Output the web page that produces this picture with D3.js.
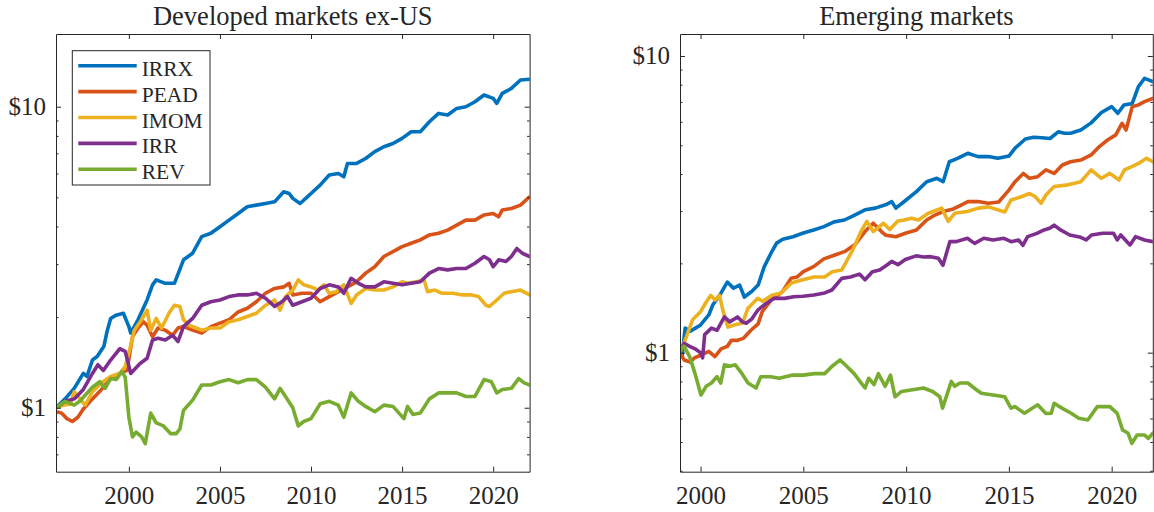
<!DOCTYPE html>
<html lang="en">
<head>
    <meta charset="UTF-8">
    <title>Developed vs emerging markets</title>
    <script src="https://d3js.org/d3.v7.min.js"></script>
    <style>
        body { margin: 0; background: #fff; }
        svg { display: block; background: #fff; }
        text { font-family: 'Liberation Serif', 'Times New Roman', serif; fill: #262626; }
        .axis path, .axis line { stroke: #262626; stroke-width: 1px; }
        .axis text { font-size: 25px; font-family: 'Liberation Serif', 'Times New Roman', serif; fill: #262626; }
        .series { fill: none; stroke-width: 3.6px; stroke-linejoin: round; stroke-linecap: round; }
    </style>
</head>
<body>
<svg width="1154" height="512"></svg>
<script>
    // series order + colours (MATLAB default palette)
    const seriesNames = ["IRRX", "PEAD", "IMOM", "IRR", "REV"];
    const seriesColors = ["#0072BD", "#D95319", "#EDB120", "#7E2F8E", "#77AC30"];
    const yearTicks = [2000, 2005, 2010, 2015, 2020];

    // Developed markets ex-US: [year, growth of $1]
    const devIRRX = [[1996.0,1.00],[1996.5,1.07],[1997.0,1.16],[1997.5,1.30],[1997.7,1.27],[1998.0,1.44],[1998.26,1.48],[1998.63,1.60],[1998.8,1.79],[1999.0,1.98],[1999.3,2.03],[1999.7,2.06],[2000.0,1.86],[2000.1,1.77],[2000.5,1.96],[2001.0,2.28],[2001.3,2.56],[2001.5,2.66],[2002.0,2.59],[2002.5,2.59],[2003.0,3.10],[2003.5,3.26],[2004.0,3.70],[2004.5,3.80],[2005.0,3.99],[2005.5,4.20],[2006.0,4.42],[2006.5,4.65],[2007.0,4.71],[2007.5,4.77],[2008.0,4.83],[2008.5,5.22],[2008.8,5.15],[2009.0,4.96],[2009.4,4.77],[2009.8,5.02],[2010.0,5.15],[2010.5,5.49],[2011.0,5.93],[2011.5,6.00],[2011.8,5.85],[2012.0,6.48],[2012.5,6.48],[2013.0,6.73],[2013.5,7.09],[2014.0,7.36],[2014.5,7.55],[2015.0,7.85],[2015.5,8.26],[2016.0,8.26],[2016.5,8.91],[2017.0,9.50],[2017.5,9.38],[2018.0,9.87],[2018.5,10.0],[2019.0,10.39],[2019.5,10.94],[2020.0,10.66],[2020.2,10.26],[2020.5,11.07],[2021.0,11.5],[2021.5,12.27],[2022.0,12.33]];
    const devPEAD = [[1996.0,0.97],[1996.3,0.96],[1996.6,0.92],[1996.9,0.90],[1997.2,0.93],[1997.5,0.99],[1998.0,1.07],[1998.5,1.15],[1999.0,1.25],[1999.5,1.30],[1999.9,1.33],[2000.2,1.72],[2000.5,1.84],[2000.8,1.93],[2001.0,1.88],[2001.3,1.72],[2001.6,1.84],[2002.0,1.81],[2002.4,1.74],[2002.7,1.84],[2003.0,1.86],[2003.5,1.81],[2004.0,1.77],[2004.5,1.86],[2005.0,1.91],[2005.5,1.96],[2006.0,2.08],[2006.5,2.14],[2007.0,2.25],[2007.5,2.40],[2008.0,2.49],[2008.5,2.52],[2008.8,2.59],[2009.0,2.37],[2009.5,2.40],[2010.0,2.40],[2010.5,2.25],[2011.0,2.34],[2011.5,2.43],[2012.0,2.52],[2012.5,2.62],[2013.0,2.80],[2013.5,2.94],[2014.0,3.18],[2014.5,3.30],[2015.0,3.43],[2015.5,3.52],[2016.0,3.61],[2016.5,3.75],[2017.0,3.80],[2017.5,3.89],[2018.0,4.04],[2018.5,4.20],[2019.0,4.20],[2019.5,4.37],[2020.0,4.42],[2020.3,4.31],[2020.5,4.54],[2021.0,4.59],[2021.5,4.71],[2022.0,5.02]];
    const devIMOM = [[1996.0,1.00],[1996.4,1.02],[1996.8,1.03],[1997.0,1.13],[1997.6,1.02],[1998.0,1.13],[1998.5,1.21],[1999.0,1.27],[1999.5,1.30],[1999.8,1.37],[2000.0,1.52],[2000.3,1.81],[2000.7,1.96],[2001.0,2.11],[2001.2,1.81],[2001.5,1.98],[2001.8,1.84],[2002.2,2.06],[2002.5,2.19],[2002.8,2.17],[2003.0,1.96],[2003.3,1.88],[2003.7,1.84],[2004.0,1.81],[2004.5,1.84],[2005.0,1.84],[2005.5,1.93],[2006.0,1.96],[2006.5,2.01],[2007.0,2.06],[2007.5,2.19],[2008.0,2.28],[2008.3,2.11],[2008.6,2.34],[2009.0,2.46],[2009.3,2.66],[2009.6,2.56],[2010.0,2.52],[2010.4,2.46],[2010.7,2.56],[2011.0,2.40],[2011.4,2.43],[2011.8,2.56],[2012.2,2.22],[2012.5,2.37],[2013.0,2.49],[2013.5,2.46],[2014.0,2.46],[2014.5,2.52],[2015.0,2.62],[2015.3,2.59],[2015.8,2.62],[2016.2,2.66],[2016.4,2.43],[2016.8,2.46],[2017.2,2.40],[2017.8,2.40],[2018.3,2.37],[2018.8,2.37],[2019.2,2.34],[2019.6,2.19],[2019.8,2.17],[2020.2,2.28],[2020.6,2.40],[2021.0,2.43],[2021.5,2.46],[2022.0,2.37]];
    const devIRR = [[1996.0,1.00],[1996.5,1.05],[1997.0,1.07],[1997.5,1.15],[1998.0,1.30],[1998.3,1.39],[1998.6,1.33],[1999.0,1.44],[1999.5,1.57],[1999.8,1.54],[2000.1,1.30],[2000.6,1.40],[2001.0,1.46],[2001.3,1.68],[2001.6,1.70],[2002.0,1.68],[2002.4,1.74],[2002.7,1.66],[2003.0,1.86],[2003.5,1.98],[2004.0,2.19],[2004.5,2.25],[2005.0,2.28],[2005.5,2.34],[2006.0,2.37],[2006.5,2.37],[2007.0,2.40],[2007.5,2.31],[2008.0,2.17],[2008.4,2.25],[2008.7,2.34],[2009.0,2.19],[2009.5,2.25],[2010.0,2.31],[2010.5,2.49],[2011.0,2.56],[2011.5,2.52],[2011.8,2.40],[2012.2,2.69],[2012.6,2.59],[2013.0,2.52],[2013.5,2.52],[2014.0,2.62],[2014.5,2.59],[2015.0,2.56],[2015.5,2.59],[2016.0,2.62],[2016.5,2.80],[2017.0,2.90],[2017.5,2.87],[2018.0,2.90],[2018.5,2.90],[2019.0,3.02],[2019.5,3.18],[2019.8,3.10],[2020.0,2.94],[2020.3,3.10],[2020.7,3.06],[2021.0,3.18],[2021.3,3.38],[2021.6,3.26],[2022.0,3.18]];
    const devREV = [[1996.0,1.00],[1996.5,1.05],[1997.0,1.02],[1997.3,1.05],[1997.6,1.10],[1998.0,1.17],[1998.4,1.22],[1998.7,1.16],[1999.0,1.25],[1999.3,1.24],[1999.63,1.32],[1999.8,1.26],[2000.0,0.93],[2000.2,0.80],[2000.4,0.83],[2000.7,0.80],[2000.9,0.76],[2001.2,0.96],[2001.5,0.89],[2001.9,0.87],[2002.3,0.82],[2002.6,0.82],[2002.8,0.85],[2003.0,0.98],[2003.5,1.06],[2004.0,1.19],[2004.5,1.19],[2005.0,1.22],[2005.5,1.24],[2006.0,1.21],[2006.5,1.24],[2007.0,1.24],[2007.5,1.17],[2008.0,1.07],[2008.3,1.16],[2008.6,1.09],[2009.0,1.00],[2009.3,0.87],[2009.6,0.90],[2010.0,0.92],[2010.5,1.03],[2011.0,1.05],[2011.5,1.02],[2011.8,0.93],[2012.2,1.12],[2012.6,1.05],[2013.0,1.01],[2013.5,0.97],[2014.0,1.02],[2014.5,1.01],[2015.1,0.92],[2015.3,1.01],[2015.6,0.95],[2016.0,0.96],[2016.5,1.07],[2017.0,1.12],[2017.5,1.12],[2018.0,1.12],[2018.5,1.09],[2019.0,1.09],[2019.5,1.24],[2019.9,1.22],[2020.2,1.12],[2020.5,1.15],[2021.0,1.16],[2021.4,1.25],[2021.7,1.21],[2022.0,1.19]];

    // Emerging markets: [year, growth of $1]
    const emIRRX = [[1999.0,1.00],[1999.1,0.97],[1999.25,1.21],[1999.5,1.18],[1999.75,1.21],[2000.0,1.24],[2000.4,1.34],[2000.6,1.45],[2001.0,1.59],[2001.3,1.73],[2001.6,1.65],[2001.9,1.69],[2002.13,1.54],[2002.5,1.61],[2002.8,1.69],[2003.1,1.95],[2003.42,2.16],[2003.7,2.34],[2004.0,2.41],[2004.5,2.46],[2005.0,2.53],[2005.5,2.59],[2006.0,2.66],[2006.5,2.76],[2007.0,2.80],[2007.5,2.91],[2008.0,3.03],[2008.5,3.07],[2009.0,3.15],[2009.3,3.23],[2009.5,3.07],[2010.0,3.27],[2010.5,3.49],[2011.0,3.77],[2011.5,3.87],[2011.8,3.77],[2012.1,4.40],[2012.5,4.52],[2013.0,4.70],[2013.5,4.58],[2014.0,4.58],[2014.46,4.52],[2015.0,4.60],[2015.3,4.89],[2015.8,5.25],[2016.2,5.32],[2016.6,5.30],[2017.0,5.27],[2017.4,5.55],[2017.7,5.49],[2018.0,5.49],[2018.5,5.63],[2019.0,5.95],[2019.5,6.45],[2020.0,6.75],[2020.3,6.41],[2020.6,6.84],[2021.0,6.92],[2021.3,7.88],[2021.6,8.41],[2022.0,8.19]];
    const emPEAD = [[1999.0,1.00],[1999.2,0.945],[1999.5,0.93],[1999.7,0.96],[2000.0,0.98],[2000.4,1.01],[2000.7,0.97],[2001.0,1.03],[2001.3,1.05],[2001.5,1.10],[2001.8,1.10],[2002.1,1.12],[2002.45,1.19],[2002.8,1.25],[2003.0,1.375],[2003.42,1.50],[2003.7,1.55],[2004.0,1.61],[2004.4,1.78],[2004.7,1.80],[2005.0,1.875],[2005.5,1.95],[2006.0,2.07],[2006.5,2.13],[2007.0,2.19],[2007.5,2.31],[2008.0,2.56],[2008.4,2.73],[2008.8,2.56],[2009.0,2.49],[2009.5,2.46],[2010.0,2.53],[2010.5,2.59],[2011.0,2.80],[2011.4,2.91],[2011.8,2.99],[2012.3,3.05],[2012.7,3.15],[2013.0,3.23],[2013.5,3.23],[2014.0,3.19],[2014.5,3.22],[2015.0,3.53],[2015.3,3.77],[2015.7,4.02],[2016.0,3.87],[2016.4,3.92],[2016.8,4.13],[2017.2,4.02],[2017.6,4.29],[2018.0,4.40],[2018.5,4.46],[2019.0,4.64],[2019.4,4.95],[2019.8,5.21],[2020.2,5.42],[2020.5,5.93],[2020.7,5.63],[2021.0,6.75],[2021.3,6.84],[2021.6,7.02],[2022.0,7.20]];
    const emIMOM = [[1999.0,1.00],[1999.31,1.13],[1999.61,1.29],[2000.0,1.375],[2000.3,1.49],[2000.5,1.56],[2000.71,1.505],[2000.92,1.56],[2001.1,1.375],[2001.33,1.22],[2001.64,1.24],[2002.05,1.26],[2002.3,1.41],[2002.78,1.525],[2003.02,1.49],[2003.47,1.56],[2003.9,1.585],[2004.44,1.72],[2004.98,1.76],[2005.51,1.80],[2006.04,1.80],[2006.4,1.875],[2006.87,1.90],[2007.36,2.19],[2007.84,2.59],[2008.09,2.77],[2008.4,2.56],[2008.9,2.73],[2009.2,2.60],[2009.6,2.78],[2009.9,2.80],[2010.27,2.84],[2010.6,2.80],[2011.08,2.95],[2011.73,3.07],[2012.05,2.77],[2012.36,2.95],[2012.98,2.99],[2013.51,3.07],[2014.0,3.10],[2014.8,2.98],[2015.1,3.27],[2015.64,3.36],[2016.0,3.44],[2016.27,3.36],[2016.57,3.19],[2016.8,3.40],[2017.2,3.63],[2017.78,3.67],[2018.5,3.77],[2019.0,4.13],[2019.5,3.87],[2019.91,4.02],[2020.36,3.82],[2020.62,4.13],[2020.98,4.24],[2021.33,4.35],[2021.69,4.52],[2022.0,4.40]];
    const emIRR = [[1999.0,1.00],[1999.2,1.075],[1999.47,1.05],[1999.73,1.03],[2000.0,1.00],[2000.1,0.96],[2000.2,1.15],[2000.53,1.21],[2000.8,1.19],[2001.16,1.32],[2001.42,1.27],[2001.8,1.32],[2002.04,1.27],[2002.22,1.256],[2002.5,1.30],[2002.78,1.39],[2003.1,1.45],[2003.58,1.525],[2004.09,1.524],[2004.53,1.544],[2004.98,1.55],[2005.51,1.565],[2006.04,1.59],[2006.39,1.626],[2006.87,1.78],[2007.29,1.80],[2007.73,1.84],[2008.0,1.76],[2008.36,1.875],[2008.71,1.90],[2009.0,1.96],[2009.3,2.03],[2009.6,1.98],[2009.96,2.06],[2010.49,2.12],[2010.84,2.10],[2011.2,2.107],[2011.57,2.08],[2011.79,1.97],[2012.13,2.37],[2012.44,2.367],[2012.98,2.43],[2013.33,2.336],[2013.78,2.43],[2014.22,2.398],[2014.76,2.43],[2015.11,2.367],[2015.47,2.398],[2015.68,2.30],[2015.91,2.46],[2016.36,2.525],[2016.71,2.592],[2016.98,2.625],[2017.2,2.69],[2017.51,2.592],[2017.96,2.493],[2018.49,2.448],[2018.76,2.40],[2019.02,2.493],[2019.56,2.525],[2020.09,2.525],[2020.27,2.398],[2020.44,2.493],[2020.89,2.307],[2021.16,2.46],[2021.6,2.398],[2022.0,2.367]];
    const emREV = [[1999.0,1.00],[1999.1,1.04],[1999.2,1.05],[1999.47,0.97],[1999.73,0.85],[2000.02,0.72],[2000.27,0.77],[2000.53,0.79],[2000.8,0.83],[2000.98,0.79],[2001.16,0.91],[2001.42,0.90],[2001.69,0.91],[2001.96,0.86],[2002.31,0.79],[2002.7,0.76],[2002.93,0.83],[2003.42,0.83],[2003.82,0.82],[2004.44,0.84],[2004.98,0.84],[2005.53,0.85],[2006.04,0.85],[2006.4,0.90],[2006.79,0.945],[2007.11,0.90],[2007.47,0.85],[2008.0,0.76],[2008.18,0.82],[2008.44,0.78],[2008.65,0.85],[2008.98,0.77],[2009.24,0.84],[2009.46,0.71],[2009.78,0.74],[2010.31,0.75],[2010.84,0.76],[2011.29,0.74],[2011.64,0.71],[2011.77,0.65],[2012.2,0.80],[2012.36,0.77],[2012.62,0.79],[2013.0,0.79],[2013.42,0.75],[2013.66,0.73],[2014.22,0.72],[2014.8,0.71],[2015.1,0.65],[2015.29,0.658],[2015.76,0.625],[2016.0,0.641],[2016.4,0.667],[2016.8,0.624],[2017.06,0.625],[2017.2,0.675],[2017.6,0.649],[2018.03,0.625],[2018.4,0.601],[2018.84,0.593],[2019.3,0.658],[2019.56,0.658],[2019.91,0.658],[2020.27,0.624],[2020.53,0.549],[2020.8,0.535],[2020.98,0.495],[2021.24,0.528],[2021.6,0.528],[2021.78,0.514],[2022.0,0.535]];

    const panels = [
        { title: "Developed markets ex-US", left: 56, right: 529.6, xDomain: [1996, 2022], yDomain: [0.613, 17.44],
          series: [devIRRX, devPEAD, devIMOM, devIRR, devREV], legend: true },
        { title: "Emerging markets", left: 680, right: 1152.8, xDomain: [1999, 2022], yDomain: [0.397, 11.86],
          series: [emIRRX, emPEAD, emIMOM, emIRR, emREV], legend: false }
    ];
    const plotTop = 34, plotBottom = 471.7;

    const svg = d3.select("svg");

    panels.forEach((p, pi) => {
        const x = d3.scaleLinear().domain(p.xDomain).range([p.left, p.right]);
        const y = d3.scaleLog().domain(p.yDomain).range([plotBottom, plotTop]);
        const g = svg.append("g");

        // minor log ticks (2..9 per decade)
        const minor = y.ticks().filter(v => {
            const m = v / Math.pow(10, Math.floor(Math.log10(v) + 1e-9));
            return Math.abs(m - 1) > 1e-6;
        });
        const major = [1, 10];

        g.append("defs").append("clipPath").attr("id", "clip" + pi)
            .append("rect").attr("x", p.left).attr("y", plotTop)
            .attr("width", p.right - p.left).attr("height", plotBottom - plotTop);

        // lines
        const line = d3.line().x(d => x(d[0])).y(d => y(d[1]));
        g.append("g").attr("clip-path", `url(#clip${pi})`)
            .selectAll("path")
            .data(p.series)
            .enter()
            .append("path")
            .attr("class", "series")
            .attr("stroke", (d, i) => seriesColors[i])
            .attr("d", line);

        // axes, ticks inside, mirrored on top/right
        g.append("g").attr("class", "axis")
            .attr("transform", `translate(0,${plotBottom})`)
            .call(d3.axisBottom(x).tickValues(yearTicks).tickFormat(d3.format("d"))
                .tickSizeInner(-5).tickSizeOuter(0).tickPadding(15));
        g.append("g").attr("class", "axis")
            .attr("transform", `translate(0,${plotTop})`)
            .call(d3.axisTop(x).tickValues(yearTicks).tickFormat("")
                .tickSizeInner(-5).tickSizeOuter(0));
        g.append("g").attr("class", "axis")
            .attr("transform", `translate(${p.left},0)`)
            .call(d3.axisLeft(y).tickValues(major).tickFormat(d => "$" + d)
                .tickSizeInner(-5).tickSizeOuter(0).tickPadding(10));
        g.append("g").attr("class", "axis")
            .attr("transform", `translate(${p.right},0)`)
            .call(d3.axisRight(y).tickValues(major).tickFormat("")
                .tickSizeInner(-5).tickSizeOuter(0));
        g.append("g").attr("class", "axis")
            .attr("transform", `translate(${p.left},0)`)
            .call(d3.axisLeft(y).tickValues(minor).tickFormat("").tickSizeInner(-2.5).tickSizeOuter(0))
            .select(".domain").remove();
        g.append("g").attr("class", "axis")
            .attr("transform", `translate(${p.right},0)`)
            .call(d3.axisRight(y).tickValues(minor).tickFormat("").tickSizeInner(-2.5).tickSizeOuter(0))
            .select(".domain").remove();

        // title
        g.append("text")
            .attr("x", (p.left + p.right) / 2)
            .attr("y", 24.5)
            .attr("text-anchor", "middle")
            .style("font-size", "26.5px")
            .text(p.title);

        if (p.legend) {
            const lg = g.append("g");
            lg.append("rect")
                .attr("x", 72.3).attr("y", 50.7)
                .attr("width", 137.7).attr("height", 134.3)
                .attr("fill", "#fff").attr("stroke", "#262626").attr("stroke-width", 1);
            seriesNames.forEach((name, i) => {
                const ry = 65.7 + i * 25.9;
                lg.append("line")
                    .attr("x1", 78.3).attr("x2", 136.7)
                    .attr("y1", ry).attr("y2", ry)
                    .attr("stroke", seriesColors[i]).attr("stroke-width", 3.6);
                lg.append("text")
                    .attr("x", 141.7).attr("y", ry + 10)
                    .style("font-size", "21.5px")
                    .text(name);
            });
        }
    });
</script>
</body>
</html>
